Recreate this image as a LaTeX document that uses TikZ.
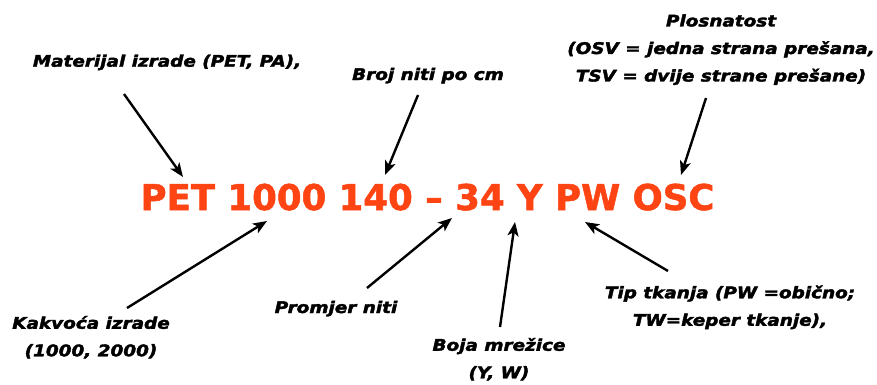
\documentclass[tikz,border=0pt]{standalone}
\usepackage{fontspec}
\setmainfont{DejaVu Sans}
\newfontface\labfont{DejaVu Sans Bold Oblique}[FakeBold=2.2]
\newfontface\codefont{DejaVu Sans Bold}[FakeBold=1.5]
\usetikzlibrary{arrows.meta}
\definecolor{petred}{RGB}{255,68,20}
\newcommand{\lab}[1]{\scalebox{1.15}[1]{\fontsize{16}{27.5}\selectfont\labfont\begin{tabular}{@{}c@{}}#1\end{tabular}}}
\begin{document}
\begin{tikzpicture}[x=1pt,y=-1pt,
  lab/.style={inner sep=0pt},
  arr/.style={line width=2.4pt,-{Stealth[length=14pt,width=11pt,inset=3.5pt]}}]
\useasboundingbox (0,0) rectangle (877,385);
\node[anchor=base,text=petred,inner sep=0pt,font=\fontsize{35.5}{40}\selectfont\codefont] (code) at (427.5,210) {PET 1000 140 – 34 Y PW OSC};

\node[lab] (mat) at (167,61.2) {\lab{Materijal izrade (PET, PA),}};
\node[lab] (broj) at (428,74.5) {\lab{Broj niti po cm}};
\node[lab] (plos) at (721,48.5) {\lab{Plosnatost\\(OSV = jedna strana prešana,\\TSV = dvije strane prešane)}};
\node[lab] (kak) at (91,337) {\lab{Kakvoća izrade\\(1000, 2000)}};
\node[lab] (prom) at (336,307.5) {\lab{Promjer niti}};
\node[lab] (boja) at (499,359) {\lab{Boja mrežice\\(Y, W)}};
\node[lab] (tip) at (730,306.5) {\lab{Tip tkanja (PW =obično;\\TW=keper tkanje),}};

\coordinate (matS) at (124,94);  \coordinate (matT) at (183,177);
\coordinate (brojS) at (418,95); \coordinate (brojT) at (385,175);
\coordinate (plosS) at (706,98); \coordinate (plosT) at (681,175);
\coordinate (kakS) at (127,308); \coordinate (kakT) at (267,221);
\coordinate (promS) at (367,288); \coordinate (promT) at (452,218);
\coordinate (bojaS) at (500,327); \coordinate (bojaT) at (515,222);
\coordinate (tipS) at (668,271); \coordinate (tipT) at (585,222);

\draw[arr] (matS) -- (matT);
\draw[arr] (brojS) -- (brojT);
\draw[arr] (plosS) -- (plosT);
\draw[arr] (kakS) -- (kakT);
\draw[arr] (promS) -- (promT);
\draw[arr] (bojaS) -- (bojaT);
\draw[arr] (tipS) -- (tipT);
\end{tikzpicture}
\end{document}
